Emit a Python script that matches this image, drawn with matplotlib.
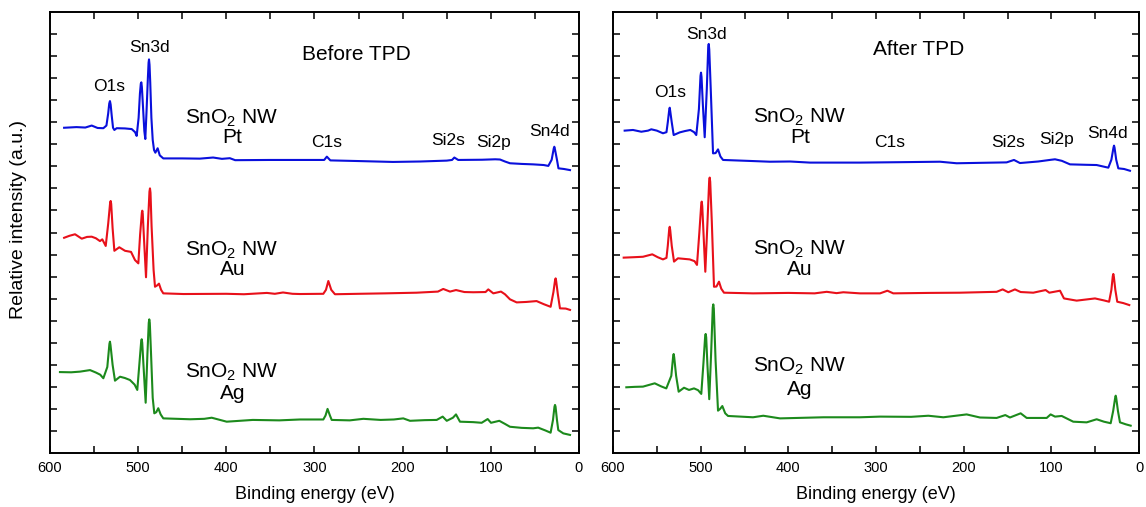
import matplotlib
matplotlib.use("Agg")
import matplotlib.pyplot as plt
from matplotlib.ticker import MultipleLocator

plt.rcParams['font.family'] = ['Liberation Sans', 'DejaVu Sans']
plt.rcParams['mathtext.fontset'] = 'custom'
plt.rcParams['mathtext.rm'] = 'Liberation Sans'
plt.rcParams['mathtext.it'] = 'Liberation Sans:italic'

# ---------------- data (binding energy eV, relative intensity incl. offset) ----------------
before_pt_be = [584, 570, 560, 552.7, 546, 539.5, 536, 534, 532.8, 532, 531.2, 530, 528.5, 527, 524.4, 515, 507.3, 503.5,
                501.7, 499.5, 498, 497, 496.4, 495.8, 494.8, 493, 491.9, 490.5, 489, 488.2, 487.7, 487.1, 486.3, 485, 483.5, 482, 480.5,
                477.9, 475.5, 471.5, 450, 430, 415, 405, 396, 390, 350, 316.5, 289, 286, 282, 250, 211, 180,
                150, 144, 141.4, 137, 110, 95, 89.6, 84, 78.3, 65, 52, 40, 34.8, 31, 28.6, 28, 27.4, 25, 23.3, 17, 10.2]
before_pt_i = [14.75, 14.78, 14.76, 14.85, 14.74, 14.73, 14.85, 15.4, 15.85, 15.96, 15.8, 15.3, 14.75, 14.65, 14.73, 14.72,
               14.69, 14.55, 14.38, 15.2, 16.3, 16.75, 16.81, 16.6, 15.9, 14.6, 14.24, 15.5, 17.0, 17.7, 17.85, 17.6, 16.8, 15.2, 14.2,
               13.74, 13.62, 13.82, 13.5, 13.36, 13.36, 13.35, 13.40, 13.34, 13.37, 13.28, 13.29, 13.29, 13.29,
               13.44, 13.27, 13.24, 13.20, 13.22, 13.26, 13.29, 13.40, 13.29, 13.30, 13.32, 13.31, 13.22, 13.14,
               13.11, 13.09, 13.06, 13.02, 13.3, 13.82, 13.89, 13.8, 13.3, 12.91, 12.88, 12.83]

before_au_be = [584, 578, 571.6, 564, 558, 552.7, 548, 543.3, 540.7, 536.8, 534, 531.8, 531.2, 530.6, 529, 527, 521.4, 514.9,
                508.1, 503.6, 499.8, 497.8, 495.8, 495.3, 494.8, 493.5, 491.1, 489, 487.2, 486.6, 486, 484.8, 482.5, 480.9, 478.5, 476.4,
                474, 471.5, 448.8, 400, 380, 354, 345, 335.7, 325, 316.5, 290, 287, 284.3, 281, 276.8, 250, 220,
                184.2, 160, 154, 146.3, 139.5, 130, 119.9, 106, 102.9, 97.2, 88.5, 84, 78.3, 70.7, 60, 48.1, 40,
                32.2, 29, 27.1, 26.5, 25.9, 24, 21.6, 15, 10.2]
before_au_i = [9.76, 9.85, 9.92, 9.72, 9.80, 9.81, 9.74, 9.61, 9.69, 9.39, 10.4, 11.35, 11.43, 11.3, 10.2, 9.17, 9.33, 9.17,
               9.12, 8.75, 8.60, 9.9, 10.9, 10.99, 10.85, 9.8, 7.97, 10.3, 11.85, 12.0, 11.8, 10.3, 8.3, 7.54, 7.6, 7.68, 7.4, 7.24, 7.21,
               7.22, 7.20, 7.26, 7.22, 7.28, 7.22, 7.21, 7.22, 7.4, 7.80, 7.4, 7.20, 7.22, 7.24, 7.27, 7.32, 7.44,
               7.32, 7.39, 7.30, 7.29, 7.30, 7.42, 7.24, 7.32, 7.20, 6.97, 6.83, 6.85, 6.89, 6.75, 6.63, 7.3, 7.85, 7.92,
               7.8, 7.2, 6.56, 6.55, 6.49]

before_ag_be = [588.7, 576, 566, 554.6, 548, 543, 539.5, 535, 532.6, 532, 531.4, 529, 526.3, 520.6, 515, 509.3, 504, 501,
                498.5, 496.6, 496, 495.4, 494, 491.5, 489.5, 488, 487.4, 486.8, 485.5, 483.5, 481.7, 479.5, 477.2, 474.5, 471.5, 441, 425,
                416.6, 399.6, 370, 340, 316.5, 290, 287.5, 285.2, 282.5, 280.5, 260, 244.6, 225, 210, 199.3, 191.7,
                175, 161.4, 154.6, 150, 143, 139.5, 135, 120, 110.4, 103.6, 99.8, 90.4, 84, 78.3, 65, 52, 46.3, 38,
                32.2, 29.5, 27.8, 27.2, 26.6, 25, 23.5, 17.8, 10.2]
before_ag_i = [3.67, 3.66, 3.69, 3.76, 3.65, 3.55, 3.39, 3.9, 4.95, 5.05, 4.9, 4.0, 3.28, 3.46, 3.40, 3.31, 3.1, 2.86, 4.1,
               5.05, 5.16, 5.0, 4.0, 2.28, 4.5, 5.9, 6.06, 5.9, 4.6, 2.5, 1.80, 1.85, 2.03, 1.75, 1.57, 1.53, 1.55, 1.60, 1.42, 1.50,
               1.48, 1.52, 1.52, 1.7, 2.0, 1.7, 1.50, 1.48, 1.55, 1.50, 1.52, 1.57, 1.46, 1.49, 1.50, 1.65, 1.46,
               1.6, 1.75, 1.42, 1.40, 1.37, 1.54, 1.37, 1.46, 1.32, 1.19, 1.14, 1.12, 1.15, 1.02, 0.92, 1.5, 2.1, 2.18,
               2.1, 1.5, 1.04, 0.89, 0.82]

after_pt_be = [586.7, 577.2, 567.7, 560, 556.3, 550, 543, 539, 537.5, 535.9, 535.3, 534.7, 533, 530.8, 523.9, 518, 511.8, 507.5,
               505, 502, 500.2, 499.6, 499, 497.5, 495.4, 493, 491.4, 490.8, 490.2, 488.5, 485.9, 483, 480.2, 477.5, 474.5, 440.3, 420.9,
               398, 375.3, 318.3, 270, 227, 208, 180, 151, 142.6, 135.8, 115, 100, 95.8, 88, 78.7, 60, 48.3, 35,
               31.5, 29.1, 28.5, 27.9, 26, 23.6, 17, 10.3]
after_pt_i = [14.62, 14.65, 14.57, 14.62, 14.68, 14.62, 14.50, 14.55, 15.0, 15.55, 15.66, 15.5, 15.0, 14.42, 14.54, 14.60,
              14.65, 14.55, 14.42, 15.6, 17.1, 17.25, 17.05, 15.8, 14.32, 16.5, 18.4, 18.55, 18.3, 16.5, 13.59, 13.6, 13.77, 13.45, 13.29,
              13.24, 13.21, 13.22, 13.17, 13.17, 13.19, 13.21, 13.14, 13.16, 13.18, 13.29, 13.15, 13.22, 13.30,
              13.32, 13.25, 13.09, 13.07, 13.06, 12.94, 13.3, 13.85, 13.94, 13.85, 13.3, 12.91, 12.88, 12.80]

after_au_be = [587.8, 576, 565.8, 555.2, 549, 543, 539, 537.5, 535.9, 535.3, 534.7, 533, 530.4, 525.9, 512.5, 507, 504.2, 501.5,
               499.4, 498.8, 498.2, 496.8, 494.7, 492.2, 490.3, 489.7, 489.1, 487.3, 484.8, 482, 479.1, 476.5, 473.4, 440.3, 400, 370, 356.2,
               345, 337.3, 318.3, 295.4, 287, 280.3, 240, 204.2, 162.4, 155.5, 149.1, 141.5, 135, 120.6, 106.5,
               102.3, 90.1, 85.6, 71.1, 50.2, 40, 34.1, 31.5, 29.9, 29.3, 28.7, 27, 24.8, 18, 11.1]
after_au_i = [8.86, 8.88, 8.90, 9.01, 8.88, 8.78, 8.85, 9.4, 10.15, 10.26, 10.1, 9.4, 8.68, 8.83, 8.78, 8.70, 8.53, 10.0,
              11.25, 11.40, 11.2, 10.0, 8.22, 10.5, 12.35, 12.49, 12.3, 10.5, 7.54, 7.55, 7.77, 7.45, 7.27, 7.24, 7.26, 7.24, 7.31, 7.25, 7.29,
              7.24, 7.24, 7.36, 7.24, 7.26, 7.27, 7.31, 7.42, 7.29, 7.42, 7.30, 7.27, 7.39, 7.27, 7.36, 7.01,
              6.91, 7.01, 6.92, 6.86, 7.4, 8.02, 8.12, 8.0, 7.4, 6.86, 6.80, 6.71]

after_ag_be = [584.8, 575, 565.8, 552.4, 545, 539.2, 533.5, 531.4, 530.8, 530.2, 528, 525.1, 519, 513.3, 507.6, 503, 499.3,
               496.8, 494.9, 494.3, 493.7, 492.3, 490.2, 488, 486.2, 485.6, 485, 483, 480.2, 477.8, 475.3, 472, 468.8, 440.3, 428.6, 409.5,
               360, 318.3, 295.4, 260, 240.3, 223.2, 196.6, 181.4, 162.4, 152.5, 147.2, 135, 128.1, 105.3, 100.8,
               95.8, 88.2, 75, 59.7, 48.3, 40, 32.3, 29.5, 27.2, 26.6, 26.0, 24, 21.7, 15, 9.5]
after_ag_i = [2.98, 3.00, 3.01, 3.16, 3.02, 2.93, 3.5, 4.38, 4.49, 4.35, 3.5, 2.78, 2.96, 2.86, 2.93, 2.85, 2.68, 4.1, 5.28, 5.40,
              5.25, 4.0, 2.44, 4.6, 6.6, 6.74, 6.55, 4.2, 1.92, 2.0, 2.13, 1.8, 1.68, 1.62, 1.69, 1.57, 1.62, 1.62, 1.65, 1.64,
              1.69, 1.62, 1.75, 1.61, 1.59, 1.72, 1.61, 1.80, 1.59, 1.59, 1.75, 1.65, 1.68, 1.42, 1.39, 1.53,
              1.42, 1.35, 1.9, 2.5, 2.60, 2.5, 1.9, 1.39, 1.30, 1.24]

panel_titles = ["Before TPD", "After TPD"]
sample_names = ["Pt", "Au", "Ag"]
xlabel = "Binding energy (eV)"
ylabel = "Relative intensity (a.u.)"

BLUE = '#0a10dc'
RED = '#e8101a'
GREEN = '#1c8a1c'

W, H = 1146, 507
fig = plt.figure(figsize=(W / 100, H / 100), dpi=100)


def fx(px):
    return px / W


def fy(py):
    return 1 - py / H


ax1 = fig.add_axes([fx(50), fy(453), fx(579) - fx(50), fy(12) - fy(453)])
ax2 = fig.add_axes([fx(613), fy(453), fx(1139) - fx(613), fy(12) - fy(453)])

panels = [
    (ax1, [(before_pt_be, before_pt_i, BLUE), (before_au_be, before_au_i, RED), (before_ag_be, before_ag_i, GREEN)]),
    (ax2, [(after_pt_be, after_pt_i, BLUE), (after_au_be, after_au_i, RED), (after_ag_be, after_ag_i, GREEN)]),
]

for ax, series in panels:
    for be, inten, c in series:
        ax.plot(be, inten, color=c, lw=1.5, solid_joinstyle='round')
    ax.set_xlim(600, 0)
    ax.set_ylim(0, 20)
    ax.xaxis.set_major_locator(MultipleLocator(100))
    ax.xaxis.set_minor_locator(MultipleLocator(50))
    ax.set_yticks(range(1, 20))
    ax.tick_params(axis='both', which='both', direction='in', top=True, right=True,
                   length=5, width=1.1, labelsize=10.5, pad=6)
    ax.tick_params(axis='y', labelleft=False)
    for s in ax.spines.values():
        s.set_linewidth(1.4)
    ax.set_xlabel(xlabel, fontsize=13, labelpad=8)

ax1.set_ylabel(ylabel, fontsize=14)
ax1.yaxis.set_label_coords(-0.044, 0.53)

fs_pk = 12.5
fs_big = 15

# left panel annotations
ax1.text(487.7, 18.41, "Sn3d", ha='center', va='center', fontsize=fs_pk)
ax1.text(533, 16.64, "O1s", ha='center', va='center', fontsize=fs_pk)
ax1.text(285.8, 14.06, "C1s", ha='center', va='center', fontsize=fs_pk)
ax1.text(148.6, 14.15, "Si2s", ha='center', va='center', fontsize=fs_pk)
ax1.text(96.4, 14.06, "Si2p", ha='center', va='center', fontsize=fs_pk)
ax1.text(34, 14.6, "Sn4d", ha='center', va='center', fontsize=fs_pk)
ax1.text(252, 18.05, panel_titles[0], ha='center', va='center', fontsize=fs_big)
for (yy1, yy2, name) in [(15.19, 14.29, sample_names[0]), (9.2, 8.30, sample_names[1]), (3.67, 2.68, sample_names[2])]:
    ax1.text(393.6, yy1, r'SnO$_2$ NW', ha='center', va='center', fontsize=fs_big)
    ax1.text(393.0, yy2, name, ha='center', va='center', fontsize=fs_big)

# right panel annotations
ax2.text(492.8, 19.0, "Sn3d", ha='center', va='center', fontsize=fs_pk)
ax2.text(535, 16.33, "O1s", ha='center', va='center', fontsize=fs_pk)
ax2.text(284, 14.10, "C1s", ha='center', va='center', fontsize=fs_pk)
ax2.text(149.5, 14.10, "Si2s", ha='center', va='center', fontsize=fs_pk)
ax2.text(93.6, 14.24, "Si2p", ha='center', va='center', fontsize=fs_pk)
ax2.text(36.5, 14.51, "Sn4d", ha='center', va='center', fontsize=fs_pk)
ax2.text(251.5, 18.28, panel_titles[1], ha='center', va='center', fontsize=fs_big)
for (yy1, yy2, name) in [(15.24, 14.33, sample_names[0]), (9.25, 8.30, sample_names[1]), (3.95, 2.90, sample_names[2])]:
    ax2.text(387.5, yy1, r'SnO$_2$ NW', ha='center', va='center', fontsize=fs_big)
    ax2.text(387.0, yy2, name, ha='center', va='center', fontsize=fs_big)

fig.savefig("out.png", dpi=100)
